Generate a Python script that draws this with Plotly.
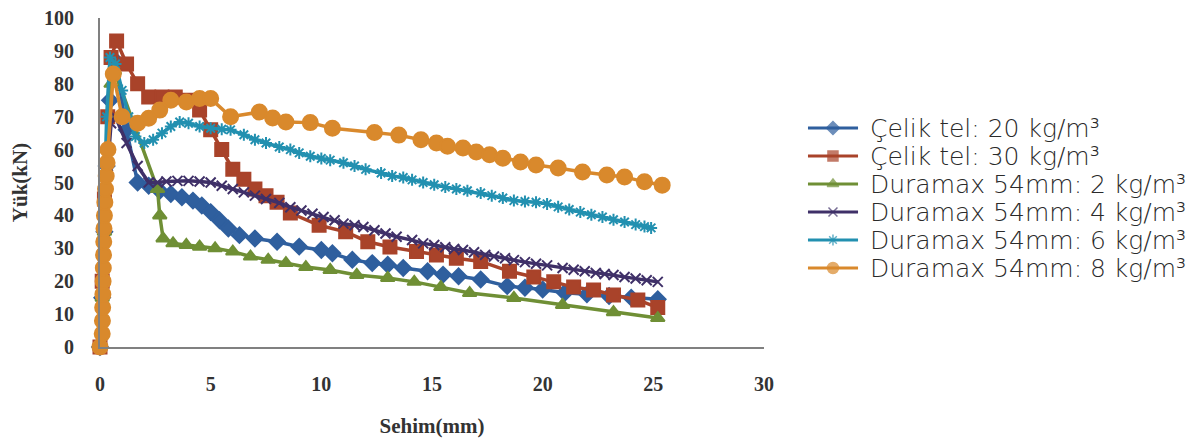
import plotly.graph_objects as go

# ---------------- data ----------------
x_c20 = [0, 0.1, 0.2, 0.3, 0.45, 0.7, 1.2, 1.7, 2.2, 2.7, 3.2, 3.7, 4.2, 4.6, 5.0, 5.4, 5.8, 6.3, 7.0,
         8.0, 9.0, 10.0, 10.5, 11.4, 12.3, 13.0, 13.7, 14.8, 15.5, 16.2, 17.2, 18.4, 19.2, 20.0, 21.0,
         22.0, 23.0, 24.0, 25.2]
y_c20 = [0, 15, 35, 55, 75, 87, 66, 50, 49, 47.5, 46.5, 45.5, 44.5, 43, 41, 38.5, 36, 34, 33,
         32, 30.5, 29.5, 28.5, 26.5, 25.5, 25, 24, 23, 22, 21.5, 20.5, 18.5, 18, 17.5, 16.5,
         16, 15.5, 15, 14.5]

x_c30 = [0, 0.1, 0.2, 0.35, 0.5, 0.75, 1.2, 1.7, 2.2, 2.8, 3.4, 4.0, 4.5, 5.0, 5.5, 6.0, 6.5, 7.0, 7.5,
         8.0, 8.6, 9.9, 11.1, 12.1, 13.1, 14.3, 15.2, 16.1, 17.2, 18.5, 19.6, 20.5, 21.4, 22.3, 23.2,
         24.3, 25.2]
y_c30 = [0, 20, 45, 70, 88, 93, 86, 80, 76, 76, 76, 75, 72, 66, 60, 54, 51, 48, 46,
         44, 40.7, 37, 35, 32, 30.4, 29, 28, 27, 26, 23, 21.3, 19.8, 18.2, 17.3, 15.8,
         14.3, 12]

x_d2 = [0, 0.1, 0.2, 0.35, 0.5, 0.65, 2.6, 2.7, 2.85, 3.3, 3.9, 4.5, 5.2, 6.0, 6.8, 7.6, 8.4, 9.3,
        10.4, 11.6, 13.0, 14.2, 15.4, 16.7, 18.7, 20.9, 23.2, 25.2]
y_d2 = [0, 15, 35, 60, 80, 84, 48, 40, 33, 31.5, 31, 30.5, 30, 29, 27.5, 26.5, 25.5, 24.3,
        23.4, 21.9, 21, 19.8, 18.2, 16.4, 14.9, 12.8, 10.6, 8.8]

x_d4 = [0, 0.1, 0.2, 0.35, 0.5, 0.7, 1.2, 1.7, 2.2, 2.6, 3.0, 3.5, 4.0, 4.5, 5.0, 5.5, 6.0, 6.5, 7.0,
        7.5, 8.1, 8.6, 9.1, 9.6, 10.1, 10.6, 11.0, 11.5, 11.9, 12.4, 12.9, 13.4, 14.1, 14.6, 15.1,
        15.6, 16.0, 16.4, 16.9, 17.4, 17.8, 18.3, 18.7, 19.2, 19.7, 20.2, 20.9, 21.4, 21.9, 22.4,
        22.8, 23.2, 23.7, 24.2, 24.7, 25.2]
y_d4 = [0, 15, 35, 55, 68, 70, 62, 55, 50, 50, 50.3, 50.5, 50.5, 50.3, 50, 49, 48, 47, 46,
        45, 43.8, 42.5, 41.5, 40.5, 39.5, 38.5, 37.5, 37, 36.5, 35.5, 34.5, 33.5, 32.5, 31.5, 31,
        30.3, 29.8, 29.5, 28.8, 28, 27.5, 27, 26.4, 25.8, 25.3, 24.8, 24, 23.5, 23, 22.5,
        22.2, 21.9, 21.3, 20.8, 20.3, 19.8]

x_d6 = [0, 0.1, 0.2, 0.3, 0.45, 0.7, 1.0, 1.3, 1.6, 2.0, 2.4, 2.8, 3.2, 3.6, 4.0, 4.5, 5.0, 5.5, 5.9,
        6.5, 7.0, 7.5, 8.1, 8.6, 9.0, 9.5, 10.0, 10.4, 11.0, 11.5, 12.0, 12.7, 13.2, 13.7, 14.1,
        14.6, 15.1, 15.6, 16.1, 16.6, 17.2, 17.7, 18.2, 18.7, 19.2, 19.7, 20.2, 20.7, 21.2, 21.7,
        22.2, 22.7, 23.2, 23.7, 24.2, 24.6, 24.9]
y_d6 = [0, 20, 45, 70, 88, 86, 78, 70, 64, 62, 63, 65, 67, 68.4, 68, 67, 66.5, 66.2, 66,
        64.5, 63, 62, 60.8, 60, 59, 58, 57.3, 56.8, 56, 55, 54, 52.9, 52, 51.5, 50.8,
        50, 49.3, 48.6, 48, 47.5, 46.8, 46, 45.3, 44.5, 44.2, 44, 43.5, 42.6, 41.8, 41,
        40.2, 39.5, 38.7, 38, 37.2, 36.6, 36.2]

x_d8 = [0, 0.1, 0.11, 0.12, 0.13, 0.14, 0.15, 0.16, 0.17, 0.18, 0.2, 0.22, 0.25, 0.28, 0.32, 0.36,
        0.6, 1.0, 1.7, 2.2, 2.7, 3.2, 3.9, 4.5, 5.0, 5.9, 7.2, 7.8, 8.4, 9.5, 10.5, 12.4, 13.5,
        14.5, 15.2, 15.7, 16.4, 17.0, 17.6, 18.2, 19.0, 19.7, 20.7, 21.8, 22.9, 23.7, 24.6, 25.4]
y_d8 = [0, 4, 8, 12, 16, 20, 24, 28, 32, 36, 40, 44, 48, 52, 56, 60,
        83, 70, 68, 69.5, 72, 75, 74.5, 75.5, 75.5, 70, 71.4, 69.6, 68.4, 68.2, 66.5, 65.2, 64.4,
        63, 62, 61, 60.5, 59.3, 58.4, 57.4, 56.2, 55.3, 54.4, 53.2, 52.3, 51.7, 50.2, 49.2]

names = ["Çelik tel: 20 kg/m³", "Çelik tel: 30 kg/m³", "Duramax 54mm: 2 kg/m³",
         "Duramax 54mm: 4 kg/m³", "Duramax 54mm: 6 kg/m³", "Duramax 54mm: 8 kg/m³"]

x_ticks = [0, 5, 10, 15, 20, 25, 30]
y_ticks = [0, 10, 20, 30, 40, 50, 60, 70, 80, 90, 100]

# ---------------- styles ----------------
series = [
    (x_c20, y_c20, "#2f5f9e", "diamond", 12, 10),
    (x_c30, y_c30, "#a9432a", "square", 13, 10),
    (x_d2, y_d2, "#6f8f35", "triangle-up", 12, 10),
    (x_d4, y_d4, "#3f3068", "x-thin-open", 10, 9),
    (x_d6, y_d6, "#2290b0", "asterisk-open", 10, 9),
    (x_d8, y_d8, "#d9892c", "circle", 15, 11),
]

# Layout geometry (figure pixels; the page body adds an 8px offset)
W, H = 1199, 439
ML, MR, MT, MB = 92, 8, 10, 100
plot_w = 664
paper_w = W - ML - MR
main_dom = [0, plot_w / paper_w]
# legend key area: figure px 792..862 horizontally
leg_dom = [(792 - ML) / paper_w, (862 - ML) / paper_w]
leg_y0, leg_dy = 120, 28        # first legend row (figure px) and row pitch
key_x = [0.114, 0.471, 0.829]   # key line start / marker / end in legend axis units

fig = go.Figure()
for (xs, ys, col, sym, sz, lsz), nm in zip(series, names):
    fig.add_trace(go.Scatter(
        x=xs, y=ys, name=nm, mode="lines+markers", showlegend=False,
        line=dict(color=col, width=3.5),
        marker=dict(symbol=sym, size=sz, color=col, line=dict(color=col, width=2)),
        cliponaxis=False,
    ))

# custom legend: keys drawn on a hidden axis, labels as text
for i, ((xs, ys, col, sym, sz, lsz), nm) in enumerate(zip(series, names)):
    yy = leg_y0 + i * leg_dy
    fig.add_trace(go.Scatter(
        x=key_x, y=[yy] * 3, xaxis="x2", yaxis="y2", mode="lines+markers",
        showlegend=False, hoverinfo="skip", cliponaxis=False,
        line=dict(color=col, width=3),
        marker=dict(symbol=sym, size=[0, lsz, 0], color=col, line=dict(color=col, width=1.5)),
    ))
    fig.add_annotation(
        x=0.971, y=yy, xref="x2", yref="y2", text=nm, showarrow=False,
        xanchor="left", yanchor="middle",
        font=dict(family="DejaVu Sans", size=25, color="#2a2a2a", weight=200),
    )

tick_font = dict(family="Liberation Serif", size=20, color="#333333", weight="bold")
title_font = dict(family="Liberation Serif", size=21, color="#333333", weight="bold")

fig.update_layout(
    width=W, height=H,
    margin=dict(l=ML, r=MR, t=MT, b=MB),
    paper_bgcolor="white", plot_bgcolor="white",
    showlegend=False,
    xaxis=dict(
        domain=main_dom,
        range=[0, 30], tickvals=x_ticks, showgrid=False, zeroline=False, automargin=False,
        showline=True, linecolor="#808080", linewidth=2,
        ticks="", tickfont=tick_font, ticklabelstandoff=18,
        title=dict(text="Sehim(mm)", font=title_font, standoff=24),
    ),
    yaxis=dict(
        range=[0, 100], tickvals=y_ticks, showgrid=False, zeroline=False, automargin=False,
        showline=True, linecolor="#808080", linewidth=2,
        ticks="", tickfont=tick_font, ticklabelstandoff=20, ticklabeloverflow="allow",
        title=dict(text="Yük(kN)", font=title_font, standoff=18),
    ),
    xaxis2=dict(domain=leg_dom, range=[0, 1], visible=False, anchor="y2", fixedrange=True),
    yaxis2=dict(domain=[0, 1], range=[H - MB, MT], visible=False, anchor="x2", fixedrange=True),
)

fig.write_html("out.html")
